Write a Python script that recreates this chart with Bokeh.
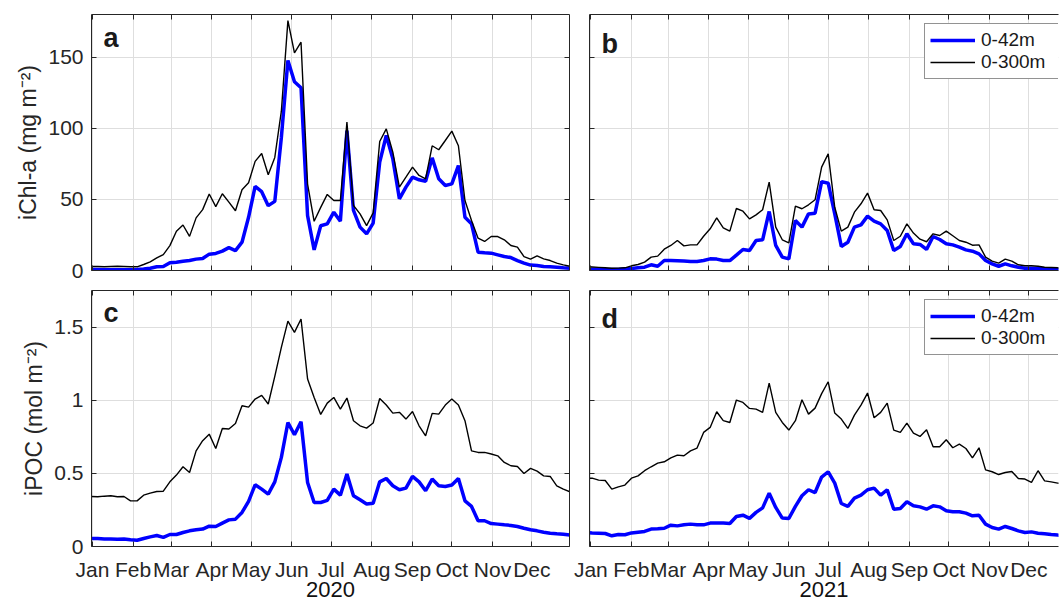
from datetime import datetime, timedelta
import pandas as pd
from bokeh.plotting import figure
from bokeh.layouts import column, row
from bokeh.models import (Range1d, FixedTicker, LinearAxis, DatetimeAxis, Legend, LegendItem,
                          Label, DatetimeTickFormatter, ColumnDataSource)
from bokeh.embed import file_html
from bokeh.resources import INLINE

FONT = "Liberation Sans"
AX = "#262626"
GRID = "#dedede"
BLUE = "#0000ff"

month_labels = ["Jan", "Feb", "Mar", "Apr", "May", "Jun", "Jul", "Aug", "Sep", "Oct", "Nov", "Dec"]
series_labels = ["0-42m", "0-300m"]

# 5-day sample dates
dates_2020 = pd.date_range("2019-12-31", periods=74, freq="5D")
dates_2021 = pd.date_range("2020-12-28", periods=74, freq="5D")

chl_42_2020 = [0.7, 0.7, 0.5, 0.5, 0.5, 0.5, 0.5, 0.7, 1.0, 1.6,
               2.6, 2.8, 5.4, 5.8, 6.5, 7.0, 8.0, 8.4, 11.5, 12.0,
               13.6, 16.1, 14.0, 19.9, 37.4, 59.1, 55.4, 45.6, 48.6, 93.5,
               147.7, 132.7, 128.5, 38.6, 14.5, 31.5, 32.8, 41.0, 34.7, 98.4,
               42.2, 30.5, 25.8, 33.3, 76.2, 94.9, 78.5, 50.4, 58.6, 65.6,
               63.8, 62.8, 79.2, 64.5, 59.8, 60.9, 73.8, 37.5, 32.8, 12.9,
               12.4, 12.2, 11.0, 9.8, 9.1, 7.0, 5.2, 3.8, 3.5, 2.8,
               2.6, 2.3, 1.9, 1.6]
chl_300_2020 = [2.8, 2.8, 2.6, 2.8, 3.0, 2.8, 2.6, 2.6, 4.2, 6.0,
                8.9, 11.2, 17.5, 27.6, 32.0, 24.0, 37.0, 42.8, 53.8, 44.9,
                54.0, 48.1, 42.0, 56.8, 61.7, 76.7, 82.3, 67.3, 79.5, 112.0,
                175.7, 153.0, 160.5, 60.8, 34.6, 44.4, 53.5, 49.2, 49.2, 104.3,
                45.7, 39.8, 31.6, 40.5, 90.7, 99.6, 83.2, 58.6, 65.6, 72.7,
                66.8, 64.5, 87.7, 84.9, 91.4, 98.0, 87.7, 49.2, 35.2, 22.7,
                20.4, 23.9, 23.9, 21.6, 17.6, 16.4, 9.8, 8.0, 10.3, 8.2,
                7.0, 5.2, 4.0, 3.0]
chl_42_2021 = [1.2, 0.9, 0.9, 0.5, 0.7, 0.7, 1.2, 1.4, 1.9, 2.3,
               4.0, 3.0, 7.0, 7.0, 6.8, 6.6, 6.3, 6.3, 7.0, 8.2,
               8.0, 7.0, 7.0, 10.8, 14.8, 14.1, 21.1, 21.6, 41.5, 17.6,
               9.4, 8.2, 35.2, 30.5, 39.8, 40.3, 62.5, 61.4, 39.8, 16.9,
               19.9, 30.5, 32.1, 38.2, 34.7, 32.8, 28.1, 14.1, 16.9, 25.8,
               18.8, 18.3, 14.8, 23.9, 21.8, 18.8, 18.0, 16.4, 14.5, 13.6,
               11.7, 7.0, 4.7, 3.0, 4.7, 3.3, 2.3, 1.6, 1.6, 1.4,
               1.2, 0.9, 0.7, 0.7]
chl_300_2021 = [2.8, 2.5, 2.2, 1.9, 1.6, 1.7, 1.9, 3.3, 4.2, 5.9,
                9.4, 10.1, 15.0, 17.6, 21.1, 17.3, 18.0, 18.0, 24.1, 29.3,
                37.0, 30.0, 27.7, 43.6, 41.7, 36.3, 39.1, 42.7, 62.1, 30.5,
                21.6, 19.5, 45.2, 43.4, 46.2, 49.7, 72.7, 82.0, 44.5, 27.7,
                30.5, 41.0, 46.9, 54.4, 42.7, 42.2, 35.6, 21.1, 24.1, 32.8,
                26.3, 22.0, 20.2, 25.8, 24.6, 27.7, 24.4, 21.1, 19.9, 17.8,
                18.0, 9.4, 6.6, 5.2, 8.0, 6.6, 4.0, 3.3, 3.3, 3.0,
                2.3, 2.1, 1.9, 1.8]
poc_42_2020 = [0.055, 0.055, 0.052, 0.052, 0.050, 0.052, 0.046, 0.043, 0.055, 0.066,
               0.075, 0.062, 0.082, 0.082, 0.096, 0.107, 0.114, 0.119, 0.139, 0.137,
               0.160, 0.182, 0.187, 0.233, 0.308, 0.422, 0.392, 0.358, 0.442, 0.609,
               0.848, 0.764, 0.853, 0.438, 0.301, 0.301, 0.315, 0.392, 0.351, 0.495,
               0.347, 0.319, 0.290, 0.296, 0.442, 0.465, 0.415, 0.388, 0.399, 0.479,
               0.442, 0.381, 0.461, 0.415, 0.410, 0.420, 0.465, 0.312, 0.274, 0.176,
               0.176, 0.157, 0.153, 0.148, 0.144, 0.137, 0.125, 0.114, 0.107, 0.098,
               0.091, 0.087, 0.084, 0.078]
poc_300_2020 = [0.342, 0.340, 0.344, 0.347, 0.340, 0.342, 0.312, 0.312, 0.351, 0.365,
                0.376, 0.378, 0.442, 0.488, 0.545, 0.506, 0.654, 0.723, 0.768, 0.670,
                0.807, 0.803, 0.841, 0.962, 0.953, 1.008, 1.033, 0.974, 1.163, 1.361,
                1.541, 1.464, 1.555, 1.145, 1.019, 0.903, 0.980, 1.019, 0.939, 1.015,
                0.860, 0.825, 0.809, 0.844, 1.012, 0.967, 0.912, 0.917, 0.871, 0.923,
                0.825, 0.757, 0.910, 0.905, 0.967, 1.008, 0.967, 0.860, 0.654, 0.643,
                0.643, 0.632, 0.620, 0.575, 0.552, 0.547, 0.499, 0.534, 0.515, 0.483,
                0.479, 0.415, 0.392, 0.374]
poc_42_2021 = [0.096, 0.093, 0.091, 0.089, 0.073, 0.082, 0.080, 0.093, 0.098, 0.103,
               0.119, 0.121, 0.125, 0.146, 0.141, 0.148, 0.153, 0.148, 0.148, 0.160,
               0.160, 0.160, 0.157, 0.205, 0.214, 0.192, 0.233, 0.264, 0.365, 0.267,
               0.194, 0.192, 0.274, 0.347, 0.388, 0.369, 0.475, 0.511, 0.433, 0.294,
               0.274, 0.331, 0.351, 0.388, 0.399, 0.351, 0.388, 0.255, 0.260, 0.306,
               0.278, 0.271, 0.255, 0.278, 0.271, 0.244, 0.237, 0.237, 0.228, 0.210,
               0.214, 0.153, 0.130, 0.119, 0.137, 0.123, 0.107, 0.096, 0.100, 0.091,
               0.087, 0.082, 0.078, 0.075]
poc_300_2021 = [0.467, 0.467, 0.454, 0.451, 0.392, 0.408, 0.420, 0.467, 0.483, 0.518,
                0.545, 0.570, 0.579, 0.606, 0.625, 0.620, 0.654, 0.673, 0.780, 0.814,
                0.921, 0.860, 0.848, 1.001, 0.985, 0.944, 0.939, 0.917, 1.117, 0.917,
                0.848, 0.796, 0.860, 1.003, 0.905, 0.946, 1.045, 1.126, 0.912, 0.871,
                0.807, 0.898, 0.967, 1.049, 0.880, 0.917, 0.980, 0.796, 0.780, 0.844,
                0.775, 0.752, 0.798, 0.682, 0.682, 0.730, 0.675, 0.700, 0.670, 0.606,
                0.675, 0.524, 0.511, 0.492, 0.506, 0.513, 0.465, 0.461, 0.438, 0.518,
                0.449, 0.442, 0.433, 0.430]

chl_ticks = [0, 50, 100, 150]
chl_tick_labels = ["0", "50", "100", "150"]
poc_ticks = [0, 0.5, 1, 1.5]
poc_tick_labels = ["0", "0.5", "1", "1.5"]

PXD = 1.3115  # pixels per day (layout)


def ms(dt):
    return (dt - datetime(1970, 1, 1)).total_seconds() * 1000.0


def style_axis(ax, show_labels, fs="21px"):
    ax.axis_line_color = AX
    ax.axis_line_width = 1
    ax.major_tick_line_color = AX
    ax.major_tick_in = 5
    ax.major_tick_out = 0
    ax.minor_tick_line_color = None
    ax.major_label_text_font = FONT
    if show_labels:
        ax.major_label_text_font_size = fs
        ax.major_label_text_color = AX
    else:
        ax.major_label_text_font_size = "0px"
        ax.major_label_text_color = None
        ax.major_label_standoff = 0


def panel(year, dates, y42, y300, ymax, yticks, ylabels, ylabel, letter, letter_drop,
          first_col, bottom_row, with_legend, frame_w, days_before, w, h, borders):
    start = datetime(year, 1, 1) - timedelta(days=days_before)
    end = start + timedelta(days=frame_w / PXD)
    bl, br, bt, bb = borders
    p = figure(width=w, height=h, x_axis_type="datetime",
               x_range=Range1d(start, end), y_range=Range1d(0, ymax),
               output_backend="svg", toolbar_location=None,
               min_border_left=bl, min_border_right=br, min_border_top=bt, min_border_bottom=bb,
               background_fill_color="white", border_fill_color="white")
    p.outline_line_color = None

    mticks = [ms(datetime(year, m, 1)) for m in range(1, 13)]
    xt = FixedTicker(ticks=mticks)
    yt = FixedTicker(ticks=yticks)
    fmt = DatetimeTickFormatter(days="%b", months="%b", years="%b", hours="%b")

    xb = p.xaxis[0]
    xb.ticker = xt
    xb.formatter = fmt
    style_axis(xb, bottom_row)
    if bottom_row:
        xb.major_label_standoff = 11
        xb.axis_label = str(year)
        xb.axis_label_text_font = FONT
        xb.axis_label_text_font_size = "22px"
        xb.axis_label_text_font_style = "normal"
        xb.axis_label_text_color = "#111111"
        xb.axis_label_standoff = -2

    yl = p.yaxis[0]
    yl.ticker = yt
    yl.major_label_overrides = {float(t): s for t, s in zip(yticks, ylabels)}
    style_axis(yl, first_col)
    if first_col:
        yl.major_label_standoff = 8
        yl.axis_label = ylabel
        yl.axis_label_text_font = FONT
        yl.axis_label_text_font_size = "23px"
        yl.axis_label_text_font_style = "normal"
        yl.axis_label_text_color = AX
        yl.axis_label_standoff = 4

    xtop = DatetimeAxis(ticker=xt, formatter=fmt)
    style_axis(xtop, False)
    p.add_layout(xtop, "above")
    if first_col:
        yr = LinearAxis(ticker=yt)
        style_axis(yr, False)
        p.add_layout(yr, "right")

    p.xgrid.ticker = xt
    p.ygrid.ticker = yt
    p.xgrid.grid_line_color = GRID
    p.ygrid.grid_line_color = GRID
    p.xgrid.grid_line_width = 1
    p.ygrid.grid_line_width = 1

    src = ColumnDataSource(dict(x=dates, y42=y42, y300=y300))
    r1 = p.line("x", "y42", source=src, line_color=BLUE, line_width=3.5)
    r2 = p.line("x", "y300", source=src, line_color="black", line_width=1.4)

    # panel letter
    lx = start + timedelta(days=12 / PXD)
    ly = ymax * (1 - letter_drop / 256.0)
    p.add_layout(Label(x=lx, y=ly, text=letter, text_font=FONT, text_font_size="27px",
                       text_font_style="bold", text_color="#1a1a1a", text_baseline="alphabetic"))

    if with_legend:
        leg = Legend(items=[LegendItem(label=series_labels[0], renderers=[r1]),
                            LegendItem(label=series_labels[1], renderers=[r2])],
                     location=(335, 191))
        leg.label_text_font = FONT
        leg.label_text_font_size = "19px"
        leg.label_text_color = "#1a1a1a"
        leg.glyph_width = 45
        leg.glyph_height = 22
        leg.label_height = 22
        leg.label_width = 82
        leg.label_standoff = 6
        leg.padding = 5
        leg.spacing = 0
        leg.margin = 0
        leg.border_line_color = AX
        leg.border_line_width = 1
        leg.background_fill_color = "white"
        leg.background_fill_alpha = 1
        p.add_layout(leg)
    return p


pa = panel(2020, dates_2020, chl_42_2020, chl_300_2020, 180, chl_ticks, chl_tick_labels,
           "iChl-a (mg m\u207b\u00b2)", "a", 23.5, True, False, False, 478, 0.76, 571, 280, (91, 2, 14, 10))
pb = panel(2021, dates_2021, chl_42_2021, chl_300_2021, 180, chl_ticks, chl_tick_labels,
           "", "b", 29, False, False, True, 469, 1.0, 488, 280, (18, 1, 14, 10))
pc = panel(2020, dates_2020, poc_42_2020, poc_300_2020, 1.75, poc_ticks, poc_tick_labels,
           "iPOC (mol m\u207b\u00b2)", "c", 22.5, True, True, False, 478, 0.76, 571, 324, (91, 2, 10, 58))
pd_ = panel(2021, dates_2021, poc_42_2021, poc_300_2021, 1.75, poc_ticks, poc_tick_labels,
            "", "d", 28, False, True, True, 469, 1.0, 488, 324, (18, 1, 10, 58))

layout = column(row(pa, pb), row(pc, pd_))
open("out.html", "w").write(file_html(layout, INLINE))
